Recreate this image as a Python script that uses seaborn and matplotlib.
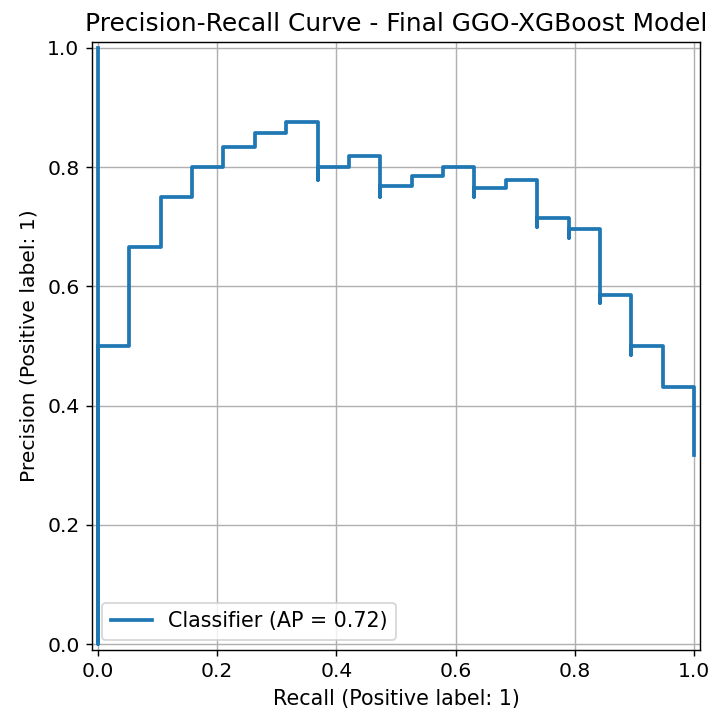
import numpy as np
import pandas as pd
import seaborn as sns
import matplotlib.pyplot as plt

# PR curve points in the order returned by precision_recall_curve (recall decreasing)
n_pos = 19
tp = [19, 19, 18, 18, 17, 17, 16, 16, 15, 15, 14, 14, 13, 12, 12, 11, 10, 9, 9, 8, 7, 7, 6, 5, 4, 3, 2, 1, 0, 0]
fp = [41, 25, 18, 18, 18, 12, 12, 7, 7, 6, 6, 4, 4, 4, 3, 3, 3, 3, 2, 2, 2, 1, 1, 1, 1, 1, 1, 1, 1, 0]
recall = [t / n_pos for t in tp]
precision = [t / (t + f) if (t + f) > 0 else 1.0 for t, f in zip(tp, fp)]
precision[-1] = 1.0
ap = 0.72

df = pd.DataFrame({"recall": recall, "precision": precision})

fig = plt.figure(figsize=(712 / 128, 715 / 128), dpi=128)
ax = fig.add_axes([92 / 712, 64 / 715, 608 / 712, 610 / 715])

sns.lineplot(data=df, x="recall", y="precision", sort=False, estimator=None,
             drawstyle="steps-post", color="#1f77b4", linewidth=2.1,
             label=f"Classifier (AP = {ap:.2f})", ax=ax)

ax.set_xlim(-0.01, 1.01)
ax.set_ylim(-0.01, 1.01)
ax.set_aspect("equal", adjustable="box")
ax.set_xlabel("Recall (Positive label: 1)", fontsize=11.6)
ax.set_ylabel("Precision (Positive label: 1)", fontsize=11.4, labelpad=5)
ax.set_title("Precision-Recall Curve - Final GGO-XGBoost Model", fontsize=14)
ax.tick_params(labelsize=11.4)
ax.grid(True)
ax.legend(loc="lower left", fontsize=11.6)

fig.savefig("out.png", dpi=128)
